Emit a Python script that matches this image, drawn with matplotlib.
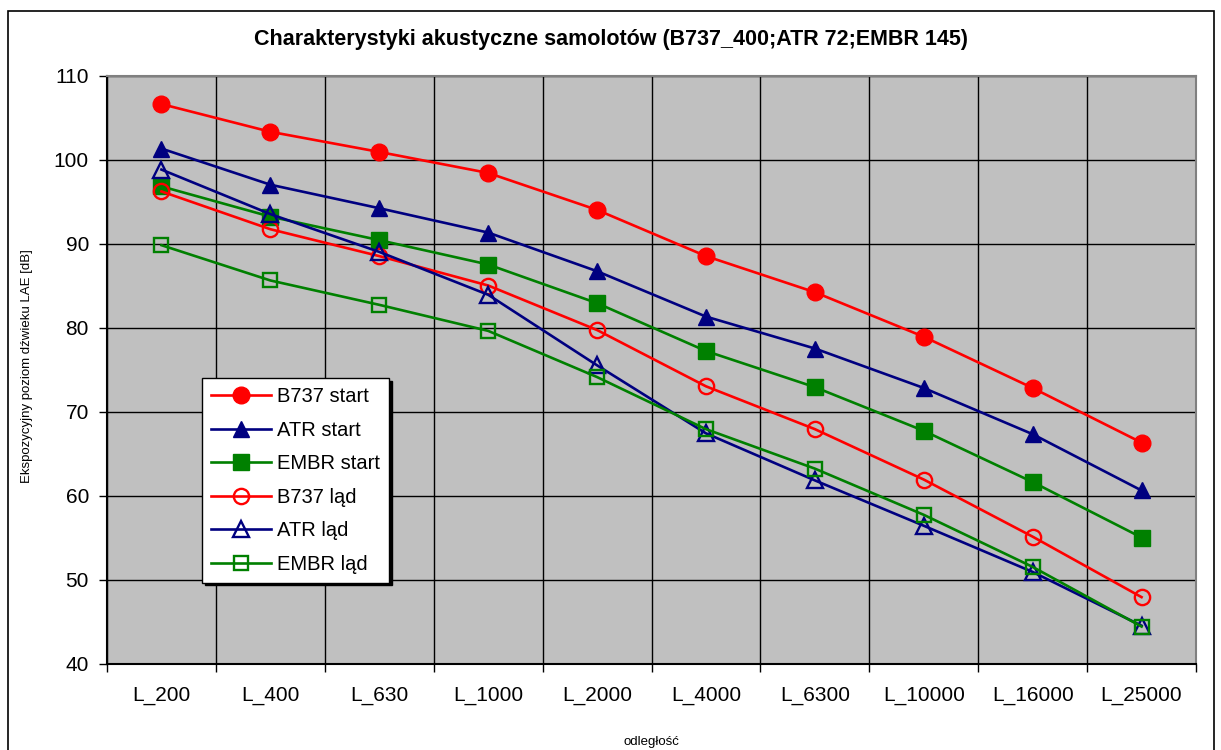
import numpy as np
import matplotlib.pyplot as plt
from matplotlib.patches import Rectangle

plt.rcParams['font.family'] = ['Liberation Sans', 'DejaVu Sans']

categories = ["L_200", "L_400", "L_630", "L_1000", "L_2000",
              "L_4000", "L_6300", "L_10000", "L_16000", "L_25000"]

b737_start = [106.6, 103.3, 100.9, 98.4, 94.0, 88.5, 84.2, 78.9, 72.8, 66.3]
atr_start = [101.3, 97.0, 94.2, 91.3, 86.7, 81.3, 77.5, 72.8, 67.3, 60.6]
embr_start = [96.8, 93.2, 90.4, 87.5, 82.9, 77.2, 72.9, 67.7, 61.6, 55.0]
b737_lad = [96.2, 91.7, 88.5, 85.0, 79.7, 73.0, 67.9, 61.9, 55.1, 47.9]
atr_lad = [98.8, 93.5, 89.0, 83.9, 75.5, 67.4, 61.8, 56.4, 50.9, 44.5]
embr_lad = [89.8, 85.6, 82.7, 79.6, 74.1, 67.9, 63.2, 57.7, 51.5, 44.4]

series = [
    ("B737 start", b737_start, "#FF0000", "o", True),
    ("ATR start", atr_start, "#000080", "^", True),
    ("EMBR start", embr_start, "#008000", "s", True),
    ("B737 ląd", b737_lad, "#FF0000", "o", False),
    ("ATR ląd", atr_lad, "#000080", "^", False),
    ("EMBR ląd", embr_lad, "#008000", "s", False),
]

fig = plt.figure(figsize=(12.21, 7.5), dpi=100)
ax = fig.add_axes([107 / 1221, 1 - 663.5 / 750, 1089 / 1221, 588 / 750])
ax.set_facecolor("#C0C0C0")

# ramka całego wykresu
fig.patches.append(Rectangle((8 / 1221, -0.05), 1206 / 1221, 1.05 - 11 / 750,
                             transform=fig.transFigure, fill=False,
                             edgecolor="black", linewidth=1.2, zorder=0))

x = np.arange(len(categories))
for label, vals, col, mk, filled in series:
    ms = 12 if mk != "s" else 11
    if filled:
        ax.plot(x, vals, color=col, linewidth=1.9, marker=mk, markersize=ms,
                markerfacecolor=col, markeredgecolor=col, label=label,
                clip_on=False, zorder=3)
    else:
        ax.plot(x, vals, color=col, linewidth=1.9, marker=mk, markersize=ms - 1,
                markerfacecolor="none", markeredgecolor=col,
                markeredgewidth=1.7, label=label, clip_on=False, zorder=3)

ax.set_xlim(-0.5, len(categories) - 0.5)
ax.set_ylim(40, 110)
ax.set_yticks(np.arange(40, 111, 10))
ax.set_xticks(x)
ax.set_xticklabels(categories)
ax.set_xticks(np.arange(-0.5, len(categories), 1), minor=True)
ax.tick_params(axis="x", which="major", length=0, pad=16, labelsize=15)
ax.tick_params(axis="x", which="minor", length=6, width=1, color="black")
ax.tick_params(axis="y", length=6, width=1, pad=7, labelsize=15)
ax.grid(True, axis="y", which="major", color="black", linewidth=1)
ax.grid(True, axis="x", which="minor", color="black", linewidth=1)
ax.set_axisbelow(True)
for sp in ax.spines.values():
    sp.set_color("#808080")
    sp.set_linewidth(1.5)
ax.spines["left"].set_color("black")
ax.spines["bottom"].set_color("black")

fig.text(27 / 1221, 1 - 366 / 750, "Ekspozycyjny poziom dźwieku LAE [dB]",
         rotation=90, ha="center", va="center", fontsize=9.5)
fig.text(651 / 1221, 1 - 742 / 750, "odległość", ha="center", va="center", fontsize=9.5)
fig.text(611.5 / 1221, 1 - 40 / 750, "Charakterystyki akustyczne samolotów (B737_400;ATR 72;EMBR 145)",
         ha="center", va="center", fontsize=15.5, fontweight="bold")

leg = ax.legend(loc="upper left", bbox_to_anchor=(0.087, 0.4855), borderaxespad=0,
                fontsize=14.5, handlelength=3.0, labelspacing=0.72, handletextpad=0.3,
                borderpad=0.45, fancybox=False, framealpha=1, edgecolor="black",
                shadow={"color": "black", "alpha": 1})
leg.get_frame().set_linewidth(1.0)

fig.savefig("out.png", dpi=100)
